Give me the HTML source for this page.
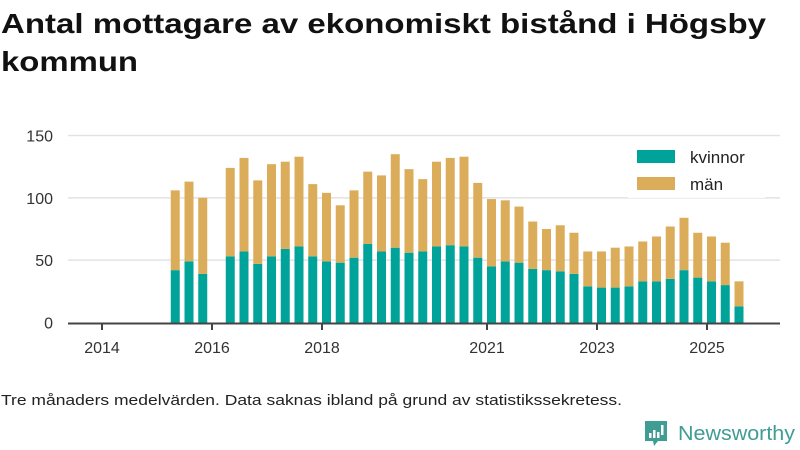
<!DOCTYPE html>
<html><head><meta charset="utf-8">
<style>
html,body{margin:0;padding:0;background:#fff;}
svg{display:block;font-family:"Liberation Sans",sans-serif;}
</style></head>
<body>
<svg id="chart" width="800" height="450" viewBox="0 0 800 450">
  <text x="1" y="33" font-size="28" font-weight="bold" fill="#111" textLength="765" lengthAdjust="spacingAndGlyphs">Antal mottagare av ekonomiskt bistånd i Högsby</text>
  <text x="1" y="71" font-size="28" font-weight="bold" fill="#111" textLength="137" lengthAdjust="spacingAndGlyphs">kommun</text>
  <g id="grid"></g>
  <g id="bars"></g>
  <g id="axes"></g>
  <g>
    <rect x="628" y="140" width="137" height="58" fill="#fff" opacity="0.9"/>
    <rect x="637" y="150" width="38" height="13" fill="#00a39a"/>
    <text x="690" y="163" font-size="17" fill="#222">kvinnor</text>
    <rect x="637" y="177" width="38" height="13" fill="#dbad5a"/>
    <text x="690" y="190" font-size="17" fill="#222">män</text>
  </g>
  <text x="1" y="405" font-size="15" fill="#222" textLength="621" lengthAdjust="spacingAndGlyphs">Tre månaders medelvärden. Data saknas ibland på grund av statistikssekretess.</text>
  <g>
    <path d="M645 421 h22 v20 h-9 l-4 5 l-1 -5 h-8 z" fill="#3f9d94"/>
    <rect x="649" y="433" width="2.5" height="5" fill="#fff"/>
    <rect x="653" y="430" width="2.5" height="8" fill="#fff"/>
    <rect x="657" y="432" width="2.5" height="6" fill="#fff"/>
    <rect x="661" y="425" width="2.5" height="10" fill="#fff"/>
    <text x="678" y="440" font-size="20" fill="#3f9d94" textLength="117" lengthAdjust="spacingAndGlyphs">Newsworthy</text>
  </g>
</svg>
<script>
const quarters = ["2015Q2","2015Q3","2015Q4","2016Q1","2016Q2","2016Q3","2016Q4","2017Q1","2017Q2","2017Q3","2017Q4","2018Q1","2018Q2","2018Q3","2018Q4","2019Q1","2019Q2","2019Q3","2019Q4","2020Q1","2020Q2","2020Q3","2020Q4","2021Q1","2021Q2","2021Q3","2021Q4","2022Q1","2022Q2","2022Q3","2022Q4","2023Q1","2023Q2","2023Q3","2023Q4","2024Q1","2024Q2","2024Q3","2024Q4","2025Q1","2025Q2","2025Q3"];
const kvinnor = [42,49,39,null,53,57,47,53,59,61,53,49,48,52,63,57,60,56,57,61,62,61,52,45,49,48,43,42,41,39,29,28,28,29,33,33,35,42,36,33,30,13];
const totals = [106,113,100,null,124,132,114,127,129,133,111,104,94,106,121,118,135,123,115,129,132,133,112,99,98,93,81,75,78,72,57,57,60,61,65,69,77,84,72,69,64,33];
const yTicks = [0,50,100,150];
const xTickYears = [2014,2016,2018,2021,2023,2025];

const NS = "http://www.w3.org/2000/svg";
const y0 = 322.5, yPerUnit = 187/150;
const yScale = v => y0 - v*yPerUnit;
const xScale = t => 102 + (t-2014)*55;
const qTime = q => parseInt(q.slice(0,4)) + (parseInt(q.slice(5))-1)/4;
function mk(tag, attrs, parent){const e=document.createElementNS(NS,tag);for(const k in attrs)e.setAttribute(k,attrs[k]);parent.appendChild(e);return e;}

const grid=document.getElementById('grid'), axes=document.getElementById('axes'), bars=document.getElementById('bars');
yTicks.forEach(v=>{
  if(v>0){
    const l=mk('line',{x1:68,x2:780,y1:yScale(v),y2:yScale(v),stroke:'#e2e2e2','stroke-width':1.5},grid);
    
    
  }
  const t=mk('text',{x:53,y:yScale(v)+6,'font-size':16,fill:'#333','text-anchor':'end'},axes);
  t.textContent=v;
  
  
});
quarters.forEach((q,i)=>{
  if(totals[i]==null) return;
  const x=xScale(qTime(q));
  const k=kvinnor[i], m=totals[i]-kvinnor[i];
  const rk=mk('rect',{x:x,y:yScale(k),width:9,height:k*yPerUnit,fill:'#00a39a'},bars);
  
  
  const rm=mk('rect',{x:x,y:yScale(totals[i]),width:9,height:m*yPerUnit,fill:'#dbad5a'},bars);
  
  
});
const ax=mk('line',{x1:68,x2:780,y1:323.5,y2:323.5,stroke:'#444','stroke-width':2},axes);


xTickYears.forEach(yr=>{
  const x=xScale(yr);
  const tk=mk('line',{x1:x,x2:x,y1:323,y2:330,stroke:'#444','stroke-width':2},axes);
  
  
  const t=mk('text',{x:x,y:353,'font-size':16,fill:'#333','text-anchor':'middle'},axes);
  t.textContent=yr;
  
  
});
</script>
</body></html>
